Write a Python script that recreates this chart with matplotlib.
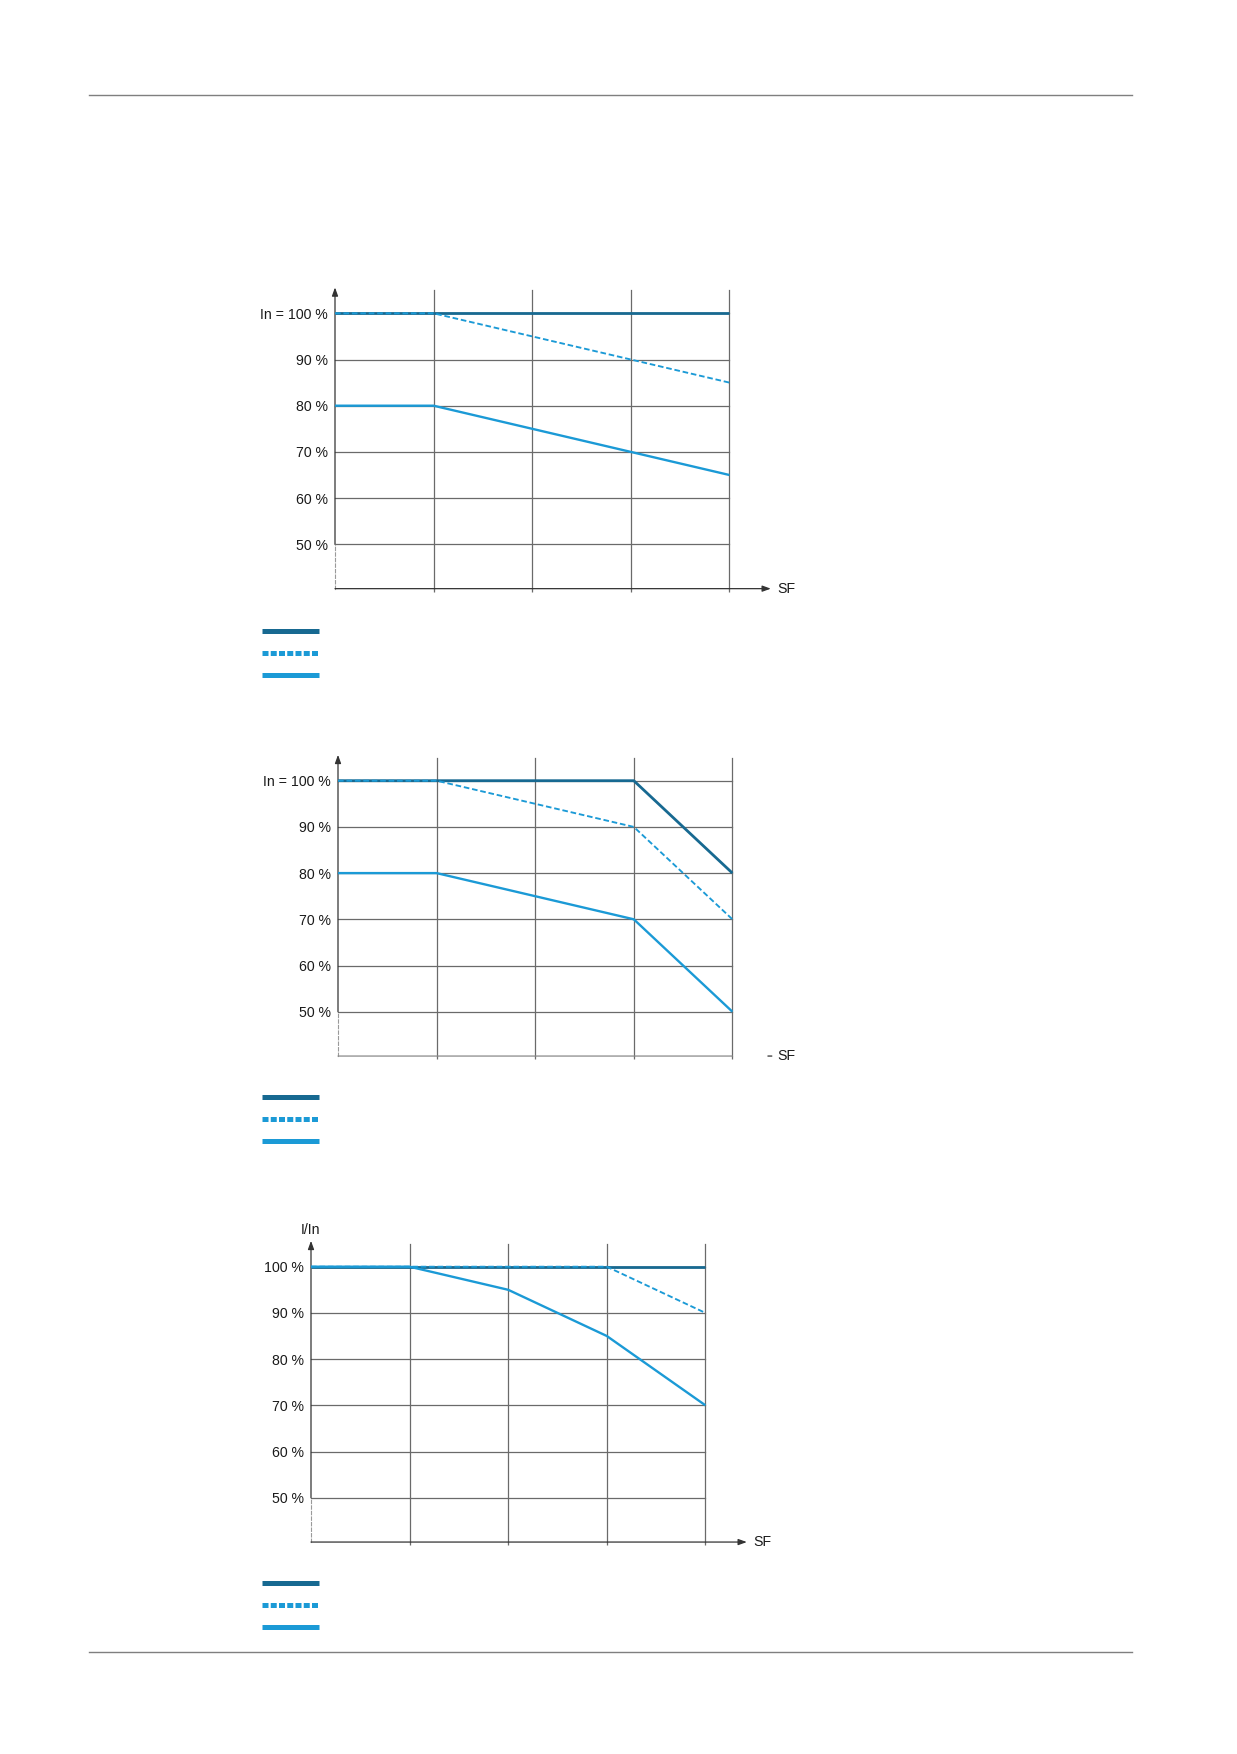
import matplotlib
matplotlib.use("Agg")
import matplotlib.pyplot as plt
from matplotlib.lines import Line2D

# ---------------- data ----------------
sf_steps = [0, 1, 2, 3, 4]
ytick_values = [50, 60, 70, 80, 90, 100]
ytick_labels_in = ["50 %", "60 %", "70 %", "80 %", "90 %", "In = 100 %"]
ytick_labels_plain = ["50 %", "60 %", "70 %", "80 %", "90 %", "100 %"]

c1_dark = [100, 100, 100, 100, 100]
c1_dash = [100, 100, 95, 90, 85]
c1_light = [80, 80, 75, 70, 65]

c2_dark = [100, 100, 100, 100, 80]
c2_dash = [100, 100, 95, 90, 70]
c2_light = [80, 80, 75, 70, 50]

c3_dark = [100, 100, 100, 100, 100]
c3_dash = [100, 100, 100, 100, 90]
c3_light = [100, 100, 95, 85, 70]

# ---------------- style / layout ----------------
plt.rcParams['font.family'] = ['Liberation Sans', 'DejaVu Sans']
FS = 10.2
DARK = "#176991"
LIGHT = "#1b9ad6"
GRID = "#6a6a6a"
AXC = "#333333"

W, H = 1237, 1754
PX_X = 98.6
PX_Y = 4.62
YBOT, YTOP = 40.4, 105.0

fig = plt.figure(figsize=(W / 100, H / 100), dpi=100)


def make_axes(x0, y100):
    top_px = y100 - (YTOP - 100) * PX_Y
    bot_px = y100 + (100 - YBOT) * PX_Y
    ax = fig.add_axes([x0 / W, 1 - bot_px / H, 4 * PX_X / W, (bot_px - top_px) / H])
    ax.set_xlim(0, 4)
    ax.set_ylim(YBOT, YTOP)
    ax.set_facecolor("none")
    for s in ["top", "right", "bottom"]:
        ax.spines[s].set_visible(False)
    ax.spines["left"].set_bounds(YBOT, 50)
    ax.spines["left"].set_linestyle((0, (3, 2)))
    ax.spines["left"].set_color("#9a9a9a")
    ax.spines["left"].set_linewidth(0.8)
    ax.set_xticks([1, 2, 3, 4])
    ax.set_xticklabels([])
    ax.tick_params(axis="x", length=2.5, width=0.9, color=GRID, direction="out")
    ax.grid(True, color=GRID, lw=0.9)
    for gl in ax.get_xgridlines() + ax.get_ygridlines():
        gl.set_clip_on(False)
    ax.set_axisbelow(True)
    return ax


def decorate(ax, labels, x_arrow=True):
    ax.set_yticks(ytick_values)
    ax.set_yticklabels(labels, fontsize=FS, color="#1a1a1a")
    ax.tick_params(axis="y", length=0, pad=5)
    for gl in ax.get_xgridlines() + ax.get_ygridlines():
        gl.set_clip_on(False)
    ax.annotate("", xy=(0, YTOP + 0.6), xytext=(0, 50), annotation_clip=False,
                arrowprops=dict(arrowstyle="-|>,head_length=0.55,head_width=0.2",
                                lw=0.9, color=AXC, shrinkA=0, shrinkB=0,
                                mutation_scale=9))
    if x_arrow:
        ax.annotate("", xy=(4.42, YBOT), xytext=(0, YBOT), annotation_clip=False,
                    arrowprops=dict(arrowstyle="-|>,head_length=0.55,head_width=0.2",
                                    lw=0.9, color=AXC, shrinkA=0, shrinkB=0,
                                    mutation_scale=9))
        ax.text(4.49, YBOT, "SF", fontsize=FS, va="center", ha="left", color="#1a1a1a")
    else:
        ax.annotate("", xy=(4.0, YBOT), xytext=(0, YBOT), annotation_clip=False,
                    arrowprops=dict(arrowstyle="-", lw=0.9, color="#8a8a8a",
                                    shrinkA=0, shrinkB=0))
        ax.annotate("", xy=(4.40, YBOT), xytext=(4.36, YBOT), annotation_clip=False,
                    arrowprops=dict(arrowstyle="-", lw=0.9, color=AXC,
                                    shrinkA=0, shrinkB=0))
        ax.text(4.46, YBOT, "SF", fontsize=FS, va="center", ha="left", color="#1a1a1a")


def draw_series(ax, dark, dash, light, z_dark, z_dash, z_light):
    ax.plot(sf_steps, dark, color=DARK, lw=2.0, zorder=z_dark, clip_on=False,
            solid_capstyle="butt")
    ax.plot(sf_steps, light, color=LIGHT, lw=1.7, zorder=z_light, clip_on=False,
            solid_capstyle="butt")
    ax.plot(sf_steps, dash, color=LIGHT, lw=1.35, dashes=(3, 1.5), zorder=z_dash,
            clip_on=False, dash_capstyle="butt")


def legend_keys(y_first):
    x_a, x_b = 262 / W, 319 / W
    for i, (col, ls) in enumerate([(DARK, "-"), (LIGHT, (0, (1.2, 0.45))), (LIGHT, "-")]):
        y = 1 - (y_first + 22 * i) / H
        fig.add_artist(Line2D([x_a, x_b], [y, y], color=col, lw=3.6, linestyle=ls,
                              solid_capstyle="butt", dash_capstyle="butt"))


# chart 1
ax1 = make_axes(335, 313.3)
decorate(ax1, ytick_labels_in)
draw_series(ax1, c1_dark, c1_dash, c1_light, 4, 5, 3)
legend_keys(631)

# chart 2
ax2 = make_axes(338, 780.7)
decorate(ax2, ytick_labels_in, x_arrow=False)
draw_series(ax2, c2_dark, c2_dash, c2_light, 4, 5, 3)
legend_keys(1096.7)

# chart 3
ax3 = make_axes(311, 1266.7)
decorate(ax3, ytick_labels_plain)
draw_series(ax3, c3_dark, c3_dash, c3_light, 3, 4, 5)
ax3.text(0, 108.0, "I/In", fontsize=FS, ha="center", va="center", color="#1a1a1a")
legend_keys(1583.3)

# page rules
for ypx in (94.5, 1652):
    fig.add_artist(Line2D([89 / W, 1132 / W], [1 - ypx / H, 1 - ypx / H],
                          color="#7f7f7f", lw=1.0))

fig.savefig("out.png", dpi=100, facecolor="white")
